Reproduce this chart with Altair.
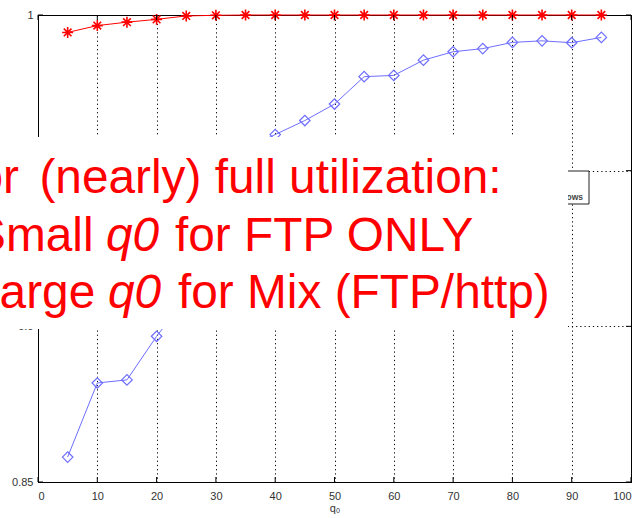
import altair as alt
import pandas as pd

# Link utilization against the RED parameter q0
q0 = [5, 10, 15, 20, 25, 30, 35, 40, 45, 50, 55, 60, 65, 70, 75, 80, 85, 90, 95]
ftp_only = [0.9944, 0.9966, 0.9977, 0.9986, 0.9997, 0.9999, 1.0, 1.0, 1.0, 1.0,
            1.0, 1.0, 1.0, 1.0, 1.0, 1.0, 1.0, 1.0, 1.0]
ftp_http_mix = [0.858, 0.8818, 0.8828, 0.8968, 0.909, 0.935, 0.957, 0.9616, 0.9661,
                0.9714, 0.9802, 0.9806, 0.9855, 0.9882, 0.9892, 0.9912, 0.9917,
                0.9911, 0.9928]
x_ticks = [0, 10, 20, 30, 40, 50, 60, 70, 80, 90, 100]
y_ticks = [0.85, 0.9, 0.95, 1.0]

W, H = 593, 467
FONT = "Liberation Sans"
RED = "#ff0000"
BLUE = "#6e6eff"
AXIS_GREY = "#333333"
STAR = "M-1,0L1,0M0,-1L0,1M-0.7,-0.7L0.7,0.7M-0.7,0.7L0.7,-0.7"

ftp_df = pd.DataFrame({"q0": q0, "util": ftp_only})
mix_df = pd.DataFrame({"q0": q0, "util": ftp_http_mix})
xt_df = pd.DataFrame({"q0": x_ticks})
yt_df = pd.DataFrame({"util": y_ticks})
one = pd.DataFrame({"k": [0]})

x_scale = alt.Scale(domain=[0, 100], nice=False, zero=False)
y_scale = alt.Scale(domain=[0.85, 1.0], nice=False, zero=False)

grid = dict(grid=True, gridColor="black", gridDash=[1.2, 3], gridOpacity=1,
            gridWidth=1, zindex=0, tickSize=0, domainColor="black",
            labelFont=FONT, labelFontSize=11, labelColor=AXIS_GREY)
x_axis = alt.Axis(values=x_ticks, labelPadding=8, title="q₀", titleFont=FONT,
                  titleFontSize=11, titleFontWeight="normal", titleColor=AXIS_GREY,
                  titlePadding=1, **grid)
y_axis = alt.Axis(values=y_ticks, format=".2~f", labelPadding=5, title=None, **grid)

X = alt.X("q0:Q", scale=x_scale, axis=x_axis)
Y = alt.Y("util:Q", scale=y_scale, axis=y_axis)

ftp_line = alt.Chart(ftp_df).mark_line(color=RED, strokeWidth=1).encode(x=X, y=Y)
ftp_pts = alt.Chart(ftp_df).mark_point(shape=STAR, size=120, color=RED,
                                       strokeWidth=1.6, opacity=1).encode(x="q0:Q", y="util:Q")
mix_line = alt.Chart(mix_df).mark_line(color=BLUE, strokeWidth=1).encode(x="q0:Q", y="util:Q")
mix_pts = alt.Chart(mix_df).mark_point(shape="diamond", size=110, color=BLUE,
                                       filled=False, strokeWidth=1.2, opacity=1).encode(x="q0:Q", y="util:Q")

# small inward tick marks on all four sides of the frame
ticks_bottom = alt.Chart(xt_df).mark_rule(color="black").encode(
    x="q0:Q", y=alt.value(H - 5), y2=alt.value(H))
ticks_top = alt.Chart(xt_df).mark_rule(color="black").encode(
    x="q0:Q", y=alt.value(0), y2=alt.value(5))
ticks_left = alt.Chart(yt_df).mark_rule(color="black").encode(
    y="util:Q", x=alt.value(0), x2=alt.value(5))
ticks_right = alt.Chart(yt_df).mark_rule(color="black").encode(
    y="util:Q", x=alt.value(W - 5), x2=alt.value(W))

# legend frame, mostly covered by the note
legend_box = alt.Chart(one).mark_rect(fill="white", stroke="#222", strokeWidth=1).encode(
    x=alt.value(420), x2=alt.value(551), y=alt.value(156), y2=alt.value(189))
legend_txt = alt.Chart(one).mark_text(text="flows", font=FONT, fontSize=8.5, fontWeight="bold",
                                      color="#444", align="right", baseline="alphabetic").encode(
    x=alt.value(545), y=alt.value(185))

# white note panel with red text
note_bg = alt.Chart(one).mark_rect(fill="white", stroke=None).encode(
    x=alt.value(-60), x2=alt.value(530), y=alt.value(122), y2=alt.value(314))


def note(text, x, y, italic=False, align="left"):
    return alt.Chart(one).mark_text(
        text=text, font=FONT, fontSize=47.8, color=RED, align=align,
        baseline="alphabetic", fontStyle="italic" if italic else "normal"
    ).encode(x=alt.value(x), y=alt.value(y))


notes = [
    note("For", -19, 178.3, align="right"),
    note("(nearly) full utilization:", 1.4, 178.3),
    note("Small", -64, 235.7),
    note("q0", 68, 235.7, italic=True),
    note("for FTP ONLY", 137, 235.7),
    note("Large", -65, 293.3),
    note("q0", 70, 293.3, italic=True),
    note("for Mix (FTP/http)", 140, 293.3),
]

chart = alt.layer(
    ftp_line, ftp_pts, mix_line, mix_pts,
    ticks_bottom, ticks_top, ticks_left, ticks_right,
    legend_box, legend_txt, note_bg, *notes
).properties(
    width=W, height=H,
    autosize=alt.AutoSizeParams(type="none"),
    padding={"left": 38, "top": 15, "right": 10, "bottom": 36},
    background="white",
).configure_view(stroke="black", strokeWidth=1)

chart.save("out.html", embed_options={"renderer": "svg", "actions": False})
